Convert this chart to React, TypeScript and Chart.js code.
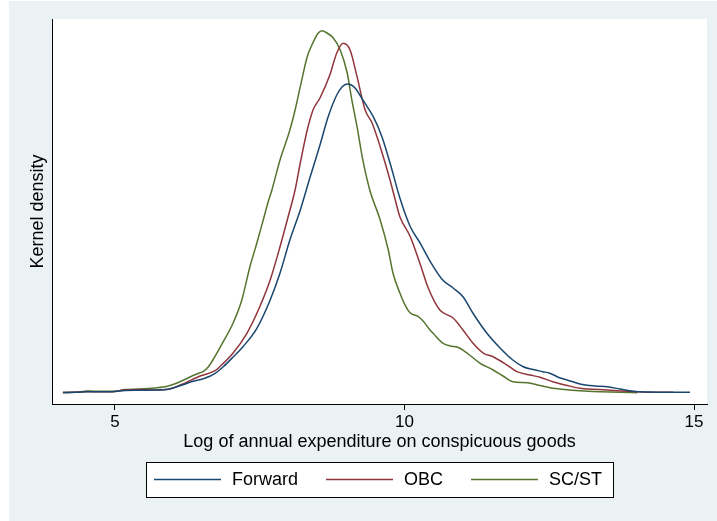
import React, { useEffect, useRef } from "react";
import { Chart, registerables } from "chart.js";

Chart.register(...registerables);

// Log of annual expenditure (x) and kernel density (y) for each group
const FORWARD_X = [4.10,4.31,4.53,4.74,5.00,5.17,5.43,5.69,5.92,6.16,6.33,6.55,6.73,6.87,7.04,7.21,7.45,7.68,7.85,8.02,8.20,8.37,8.54,8.68,8.83,8.92,9.01,9.08,9.15,9.28,9.46,9.61,9.75,9.92,10.10,10.27,10.44,10.66,10.84,11.01,11.18,11.42,11.65,11.87,12.05,12.22,12.39,12.51,12.69,12.81,13.03,13.29,13.50,13.72,13.95,14.24,14.59,14.93];
const FORWARD_Y = [0.0003,0.0005,0.0011,0.0011,0.0015,0.0028,0.0030,0.0034,0.0043,0.0096,0.0140,0.0180,0.0243,0.0325,0.0446,0.0575,0.0805,0.1159,0.1496,0.1909,0.2284,0.2696,0.3096,0.3446,0.3721,0.3821,0.3859,0.3846,0.3805,0.3659,0.3450,0.3200,0.2871,0.2434,0.2075,0.1871,0.1646,0.1409,0.1309,0.1200,0.0996,0.0746,0.0559,0.0409,0.0325,0.0290,0.0263,0.0243,0.0184,0.0159,0.0109,0.0084,0.0075,0.0046,0.0018,0.0009,0.0006,0.0005];

const OBC_X = [4.10,4.31,4.53,4.74,5.00,5.17,5.43,5.69,5.92,6.16,6.47,6.73,6.81,7.04,7.28,7.50,7.68,7.85,7.99,8.11,8.20,8.32,8.42,8.54,8.71,8.83,8.94,9.06,9.18,9.32,9.44,9.58,9.75,9.84,9.92,10.10,10.27,10.41,10.61,10.84,11.01,11.18,11.36,11.53,11.77,11.94,12.17,12.34,12.56,12.81,13.03,13.50,14.02,14.33,14.64];
const OBC_Y = [0.0003,0.0005,0.0014,0.0011,0.0015,0.0036,0.0040,0.0034,0.0043,0.0105,0.0209,0.0275,0.0325,0.0496,0.0746,0.1075,0.1409,0.1825,0.2200,0.2534,0.2871,0.3284,0.3534,0.3684,0.3971,0.4246,0.4368,0.4284,0.3950,0.3534,0.3371,0.3075,0.2659,0.2409,0.2200,0.1950,0.1609,0.1309,0.1034,0.0934,0.0784,0.0621,0.0496,0.0450,0.0346,0.0263,0.0221,0.0193,0.0138,0.0090,0.0055,0.0034,0.0013,0.0006,0.0005];

const SCST_X = [4.10,4.31,4.53,4.74,5.00,5.17,5.43,5.69,5.92,6.16,6.33,6.47,6.52,6.61,6.69,6.87,7.04,7.19,7.33,7.45,7.56,7.64,7.71,7.85,8.02,8.11,8.20,8.32,8.40,8.51,8.58,8.66,8.77,8.89,9.01,9.09,9.18,9.28,9.40,9.58,9.72,9.80,9.92,10.01,10.10,10.22,10.32,10.44,10.49,10.66,10.79,10.91,11.08,11.30,11.53,11.70,11.87,12.12,12.34,12.51,12.77,13.03,13.38,13.72,14.02];
const SCST_Y = [0.0003,0.0005,0.0021,0.0018,0.0018,0.0040,0.0046,0.0059,0.0084,0.0150,0.0209,0.0250,0.0263,0.0321,0.0409,0.0638,0.0871,0.1159,0.1575,0.1871,0.2159,0.2371,0.2534,0.2909,0.3284,0.3534,0.3825,0.4200,0.4346,0.4496,0.4525,0.4496,0.4434,0.4284,0.3996,0.3659,0.3325,0.2909,0.2534,0.2159,0.1784,0.1496,0.1246,0.1096,0.0996,0.0959,0.0896,0.0784,0.0746,0.0621,0.0584,0.0571,0.0496,0.0371,0.0284,0.0209,0.0138,0.0125,0.0090,0.0063,0.0040,0.0025,0.0013,0.0005,0.0000];

const SERIES_LABELS = ["Forward", "OBC", "SC/ST"];
const X_TICKS = [5, 10, 15];
const X_TITLE = "Log of annual expenditure on conspicuous goods";
const Y_TITLE = "Kernel density";

const FONT = '"Liberation Sans", Arial, Helvetica, sans-serif';
const COLORS = ["#1A476F", "#90353B", "#55752F"];

const toPoints = (xs: number[], ys: number[]) => xs.map((x, i) => ({ x, y: ys[i] }));

const plotBg = {
  id: "plotBg",
  beforeDraw(chart: any) {
    const { ctx, chartArea } = chart;
    ctx.save();
    ctx.fillStyle = "#ffffff";
    ctx.fillRect(chartArea.left, chartArea.top, chartArea.right - chartArea.left, chartArea.bottom - chartArea.top);
    ctx.restore();
  },
};

const boxLegend = {
  id: "boxLegend",
  afterDraw(chart: any) {
    const { ctx, chartArea } = chart;
    ctx.save();
    ctx.font = `18px ${FONT}`;
    const items = chart.data.datasets.map((ds: any) => ({
      label: ds.label,
      color: ds.borderColor,
      w: ctx.measureText(ds.label).width,
    }));
    const lineLen = 67, gapLT = 11, gapItem = 28, padL = 8, padR = 11;
    let total = padL + padR + gapItem * (items.length - 1);
    items.forEach((it: any) => (total += lineLen + gapLT + it.w));
    const cx = (chartArea.left + chartArea.right) / 2;
    const x0 = Math.round(cx - total / 2);
    const top = 461, h = 35;
    ctx.fillStyle = "#ffffff";
    ctx.fillRect(x0, top, total, h);
    ctx.strokeStyle = "#000000";
    ctx.lineWidth = 1;
    ctx.strokeRect(x0 + 0.5, top + 0.5, Math.round(total), h);
    let x = x0 + padL;
    const yMid = top + 17.5;
    items.forEach((it: any) => {
      ctx.strokeStyle = it.color;
      ctx.lineWidth = 1.5;
      ctx.beginPath();
      ctx.moveTo(x, yMid);
      ctx.lineTo(x + lineLen, yMid);
      ctx.stroke();
      x += lineLen + gapLT;
      ctx.fillStyle = "#000000";
      ctx.textBaseline = "middle";
      ctx.textAlign = "left";
      ctx.fillText(it.label, x, yMid + 0.5);
      x += it.w + gapItem;
    });
    ctx.restore();
  },
};

export default function App() {
  const ref = useRef<HTMLCanvasElement | null>(null);

  useEffect(() => {
    if (!ref.current) return;
    const data = [toPoints(FORWARD_X, FORWARD_Y), toPoints(OBC_X, OBC_Y), toPoints(SCST_X, SCST_Y)];
    const chart = new Chart(ref.current, {
      type: "line",
      data: {
        datasets: SERIES_LABELS.map((label, i) => ({
          label,
          data: data[i],
          borderColor: COLORS[i],
          backgroundColor: COLORS[i],
          borderWidth: 1.5,
          pointRadius: 0,
          fill: false,
          cubicInterpolationMode: "monotone" as const,
        })),
      },
      options: {
        animation: false,
        responsive: true,
        maintainAspectRatio: false,
        layout: { padding: { left: 0, right: 10, top: 18, bottom: 68 } },
        plugins: { legend: { display: false }, tooltip: { enabled: false } },
        scales: {
          x: {
            type: "linear",
            min: 3.912,
            max: 15.224,
            afterBuildTicks: (s: any) => {
              s.ticks = X_TICKS.map((v) => ({ value: v }));
            },
            afterFit: (s: any) => {
              s.height = 49;
            },
            grid: { drawOnChartArea: false, drawTicks: true, tickLength: 6, color: "#000000" },
            border: { display: true, color: "#000000", width: 1 },
            ticks: {
              color: "#000000",
              font: { family: FONT, size: 17 },
              padding: 2,
              maxRotation: 0,
              autoSkip: false,
              callback: (v: any) => String(v),
            },
            title: {
              display: true,
              text: X_TITLE,
              color: "#000000",
              font: { family: FONT, size: 18 },
              padding: { top: 0, bottom: 0 },
            },
          },
          y: {
            type: "linear",
            min: -0.0141,
            max: 0.4671,
            afterFit: (s: any) => {
              s.width = 43;
            },
            grid: { display: false },
            border: { display: true, color: "#000000", width: 1 },
            ticks: { display: false },
            title: {
              display: true,
              text: Y_TITLE,
              color: "#000000",
              font: { family: FONT, size: 18 },
              padding: { top: 18, bottom: 0 },
            },
          },
        },
      },
      plugins: [plotBg, boxLegend],
    });
    return () => chart.destroy();
  }, []);

  return (
    <div
      style={{
        position: "fixed",
        left: 9,
        top: 1,
        width: 708,
        height: 520,
        background: "#EAF2F3",
      }}
    >
      <canvas ref={ref} />
    </div>
  );
}
